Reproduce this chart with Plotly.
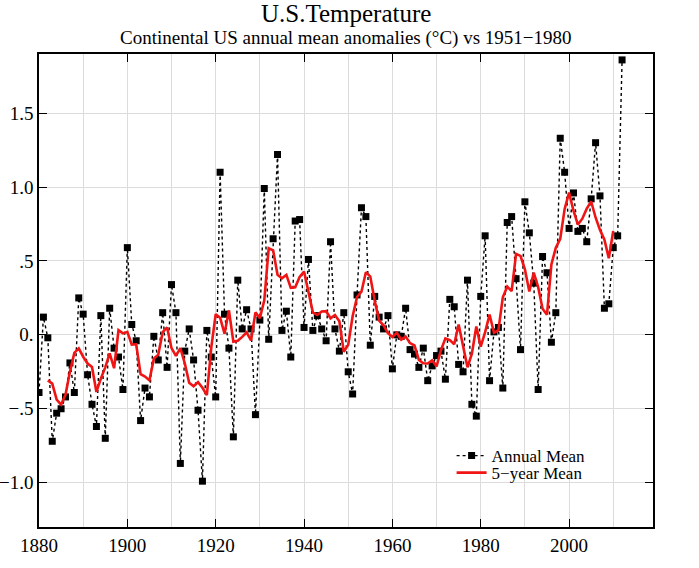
import plotly.graph_objects as go

years = list(range(1880, 2013))
annual_mean = [
    -0.39, 0.12, -0.02, -0.72, -0.53, -0.50, -0.42, -0.19, -0.39, 0.25,   # 1880-1889
    0.14, -0.27, -0.47, -0.62, 0.13, -0.70, 0.18, -0.09, -0.15, -0.37,    # 1890-1899
    0.59, 0.07, -0.04, -0.58, -0.36, -0.42, -0.01, -0.17, 0.15, -0.22,    # 1900-1909
    0.34, 0.15, -0.87, -0.11, 0.04, -0.17, -0.51, -0.99, 0.03, -0.15,     # 1910-1919
    -0.42, 1.10, 0.14, -0.09, -0.69, 0.37, 0.04, 0.17, 0.04, -0.54,       # 1920-1929
    0.10, 0.99, -0.03, 0.65, 1.22, 0.03, 0.16, -0.15, 0.77, 0.78,         # 1930-1939
    0.05, 0.51, 0.03, 0.13, 0.04, -0.04, 0.63, 0.04, -0.11, 0.15,         # 1940-1949
    -0.25, -0.40, 0.27, 0.86, 0.80, -0.07, 0.26, 0.12, 0.04, 0.13,        # 1950-1959
    -0.23, 0.00, -0.01, 0.18, -0.10, -0.13, -0.22, -0.09, -0.31, -0.21,   # 1960-1969
    -0.14, -0.11, -0.30, 0.24, 0.19, -0.20, -0.25, 0.37, -0.47, -0.55,    # 1970-1979
    0.26, 0.67, -0.31, 0.02, 0.05, -0.36, 0.76, 0.80, 0.38, -0.10,        # 1980-1989
    0.90, 0.69, 0.35, -0.37, 0.53, 0.42, -0.05, 0.15, 1.33, 1.10,         # 1990-1999
    0.72, 0.96, 0.70, 0.72, 0.63, 0.92, 1.30, 0.94, 0.18, 0.21,           # 2000-2009
    0.59, 0.67, 1.86,                                                      # 2010-2012
]

five_year_years = list(range(1882, 2011))
five_year_mean = [
    -0.308, -0.330, -0.438, -0.472, -0.406, -0.250, -0.122, -0.092,        # 1882-1889
    -0.148, -0.194, -0.218, -0.386, -0.296, -0.220, -0.126, -0.226, 0.032, 0.010,   # 1890-1899
    0.020, -0.066, -0.064, -0.266, -0.282, -0.308, -0.162, -0.134, 0.018, 0.050,    # 1900-1909
    -0.090, -0.142, -0.090, -0.192, -0.324, -0.348, -0.320, -0.358, -0.408, -0.086, # 1910-1919
    0.140, 0.116, 0.008, 0.166, -0.046, -0.040, -0.014, 0.016, -0.038, 0.152,       # 1920-1929
    0.112, 0.234, 0.586, 0.572, 0.406, 0.382, 0.406, 0.318, 0.322, 0.392,           # 1930-1939
    0.428, 0.300, 0.152, 0.134, 0.158, 0.160, 0.112, 0.134, 0.092, -0.114,          # 1940-1949
    -0.068, 0.126, 0.256, 0.292, 0.424, 0.394, 0.230, 0.096, 0.064, 0.012,          # 1950-1959
    -0.014, 0.014, -0.032, -0.012, -0.056, -0.072, -0.170, -0.192, -0.194, -0.172,  # 1960-1969
    -0.214, -0.104, -0.024, -0.036, -0.064, 0.070, -0.072, -0.220, -0.128, 0.056,   # 1970-1979
    -0.080, 0.018, 0.138, 0.014, 0.032, 0.254, 0.326, 0.296, 0.548, 0.534,          # 1980-1989
    0.444, 0.294, 0.420, 0.324, 0.176, 0.136, 0.476, 0.590, 0.650, 0.852,           # 1990-1999
    0.962, 0.840, 0.746, 0.786, 0.854, 0.902, 0.794, 0.710, 0.644, 0.518,           # 2000-2009
    0.702,                                                                           # 2010
]

y_tick_vals = [-1.0, -0.5, 0.0, 0.5, 1.0, 1.5]
y_tick_text = ["\u22121.0", "\u2212.5", "0.", ".5", "1.0", "1.5"]

FONT = "Liberation Serif, Times New Roman, serif"

fig = go.Figure()
fig.add_trace(go.Scatter(
    x=years, y=annual_mean, name="Annual Mean", mode="lines+markers",
    line=dict(color="black", width=1.4, dash="dot"),
    marker=dict(symbol="square", size=7, color="black"),
    legend="legend",
))
fig.add_trace(go.Scatter(
    x=five_year_years, y=five_year_mean, name="5\u2212year Mean", mode="lines",
    line=dict(color="#f01414", width=2.6),
    legend="legend2",
))

leg_common = dict(xanchor="left", yanchor="middle", bgcolor="rgba(0,0,0,0)",
                  font=dict(size=17, family=FONT, color="black"), borderwidth=0)

fig.update_layout(
    width=699, height=568,
    margin=dict(l=39, r=46, t=54, b=41, autoexpand=False),
    paper_bgcolor="white", plot_bgcolor="white",
    font=dict(family=FONT, size=18, color="black"),
    showlegend=True,
    legend=dict(x=0.672, y=0.150, **leg_common),
    legend2=dict(x=0.672, y=0.114, **leg_common),
    annotations=[
        dict(text="U.S.Temperature", x=0.5, y=1.0856, xref="paper", yref="paper",
             xanchor="center", yanchor="middle", showarrow=False,
             font=dict(size=25, family=FONT)),
        dict(text="Continental US annual mean anomalies (\u00b0C) vs 1951\u22121980",
             x=0.5, y=1.0338, xref="paper", yref="paper",
             xanchor="center", yanchor="middle", showarrow=False,
             font=dict(size=19, family=FONT)),
    ],
)

fig.update_xaxes(
    range=[1880, 2019], tick0=1880, dtick=20, automargin=False,
    ticks="inside", ticklen=8, tickwidth=1.3, tickcolor="black",
    showline=True, linecolor="black", linewidth=1.5, mirror="ticks",
    showgrid=True, gridcolor="#dcdcdc", gridwidth=1,
    minor=dict(dtick=10, tick0=1880, showgrid=True, gridcolor="#dcdcdc", ticks=""),
    zeroline=False, tickfont=dict(size=19, family=FONT),
)
fig.update_yaxes(
    range=[-1.3, 1.9], tickvals=y_tick_vals, ticktext=y_tick_text, automargin=False,
    ticks="inside", ticklen=8, tickwidth=1.3, tickcolor="black",
    showline=True, linecolor="black", linewidth=1.5, mirror="ticks",
    showgrid=True, gridcolor="#dcdcdc", gridwidth=1,
    zeroline=False, tickfont=dict(size=19, family=FONT),
)

fig.write_html("out.html")
